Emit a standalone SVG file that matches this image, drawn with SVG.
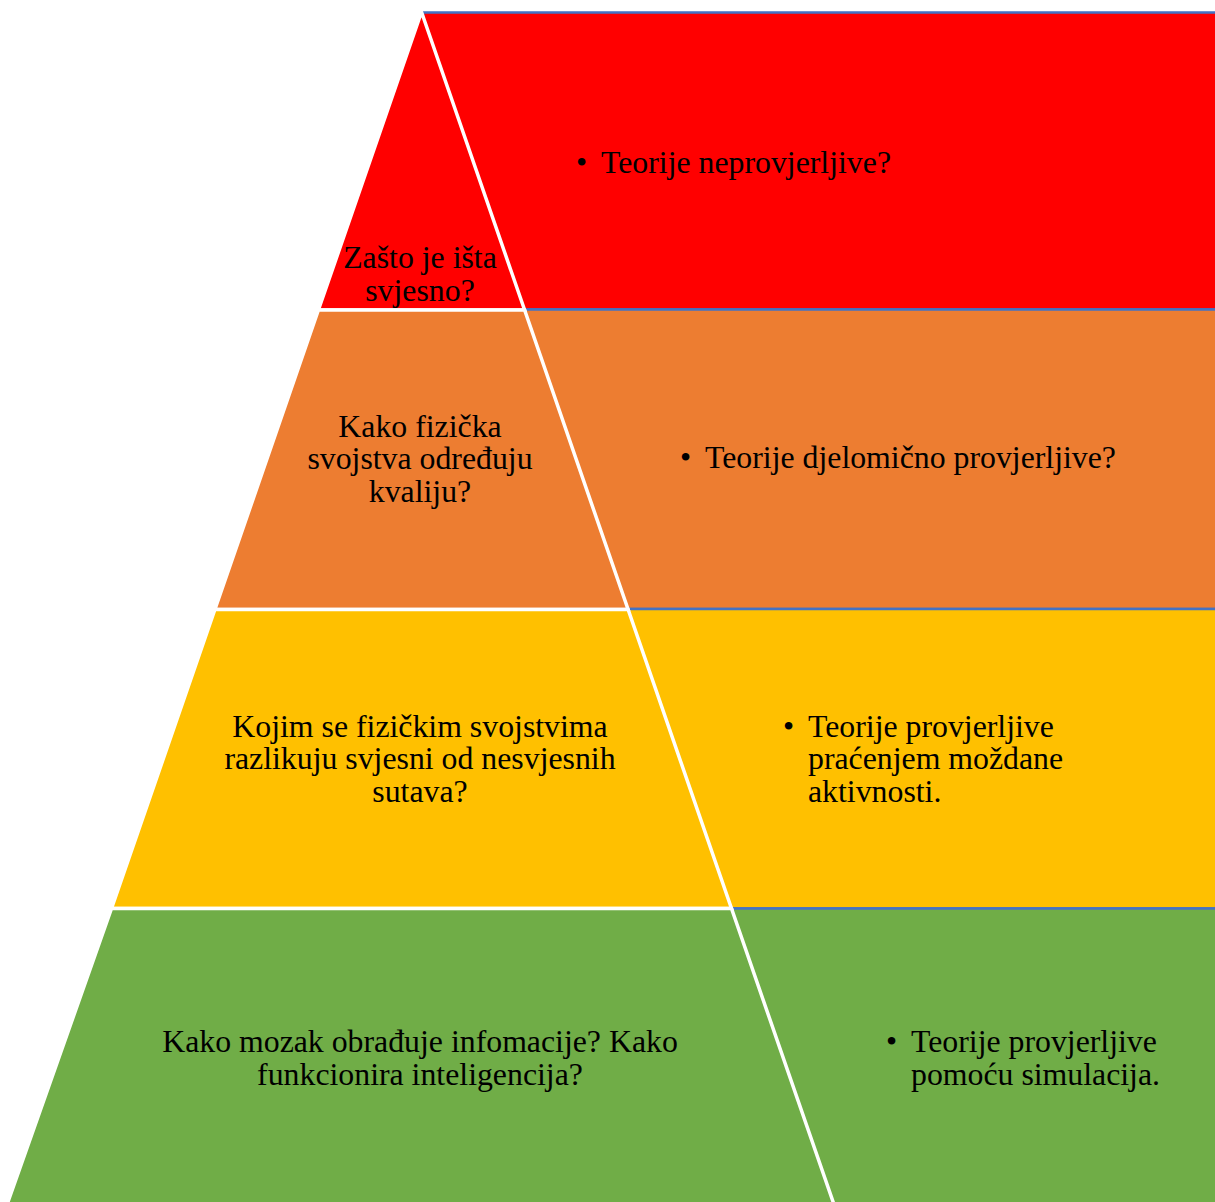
<svg xmlns="http://www.w3.org/2000/svg" width="1215" height="1202" viewBox="0 0 1215 1202">
<style>
  .panel { stroke: #4472C4; stroke-width: 2.5; }
  .seg { stroke: #FFFFFF; stroke-width: 3.5; stroke-linejoin: miter; }
  .t { font-family: "Liberation Serif", "Times New Roman", serif; font-size: 31.8px; fill: #000000; }
  .c { text-anchor: middle; }
</style>
<rect width="1215" height="1202" fill="#FFFFFF"/>
<g id="panels">
  <g id="panel-red"><rect class="panel" x="423" y="12.5" width="800" height="297" fill="#FF0000"/></g>
  <g id="panel-orange"><rect class="panel" x="423" y="309.5" width="800" height="299.5" fill="#ED7D31"/></g>
  <g id="panel-yellow"><rect class="panel" x="423" y="609" width="800" height="299.5" fill="#FFC000"/></g>
  <g id="panel-green"><rect class="panel" x="423" y="908.5" width="800" height="310" fill="#70AD47"/></g>
</g>
<g id="pyramid">
  <g id="level-1"><polygon class="seg" points="421.5,12 524.6,310 318.4,310" fill="#FF0000"/></g>
  <g id="level-2"><polygon class="seg" points="318.4,310 524.6,310 628.1,609.5 214.9,609.5" fill="#ED7D31"/></g>
  <g id="level-3"><polygon class="seg" points="214.9,609.5 628.1,609.5 731.5,908.5 111.5,908.5" fill="#FFC000"/></g>
  <g id="level-4"><polygon class="seg" points="111.5,908.5 731.5,908.5 838,1216 3,1216" fill="#70AD47"/></g>
</g>
<g id="labels">
  <text class="t c" x="420" y="268">Zašto je išta</text>
  <text class="t c" x="420" y="301">svjesno?</text>
  <text class="t c" x="420" y="436.5">Kako fizička</text>
  <text class="t c" x="420" y="469">svojstva određuju</text>
  <text class="t c" x="420" y="501.5">kvaliju?</text>
  <text class="t c" x="420" y="736.5">Kojim se fizičkim svojstvima</text>
  <text class="t c" x="420" y="769">razlikuju svjesni od nesvjesnih</text>
  <text class="t c" x="420" y="801.5">sutava?</text>
  <text class="t c" x="420" y="1052">Kako mozak obrađuje infomacije? Kako</text>
  <text class="t c" x="420" y="1085">funkcionira inteligencija?</text>
</g>
<g id="panel-texts">
  <text class="t" x="576" y="172.5">•</text>
  <text class="t" x="601" y="172.5">Teorije neprovjerljive?</text>
  <text class="t" x="680" y="467.5">•</text>
  <text class="t" x="705" y="467.5">Teorije djelomično provjerljive?</text>
  <text class="t" x="783" y="736.5">•</text>
  <text class="t" x="808" y="736.5">Teorije provjerljive</text>
  <text class="t" x="808" y="769">praćenjem moždane</text>
  <text class="t" x="808" y="801.5">aktivnosti.</text>
  <text class="t" x="886" y="1052">•</text>
  <text class="t" x="911" y="1052">Teorije provjerljive</text>
  <text class="t" x="911" y="1085">pomoću simulacija.</text>
</g>
</svg>
